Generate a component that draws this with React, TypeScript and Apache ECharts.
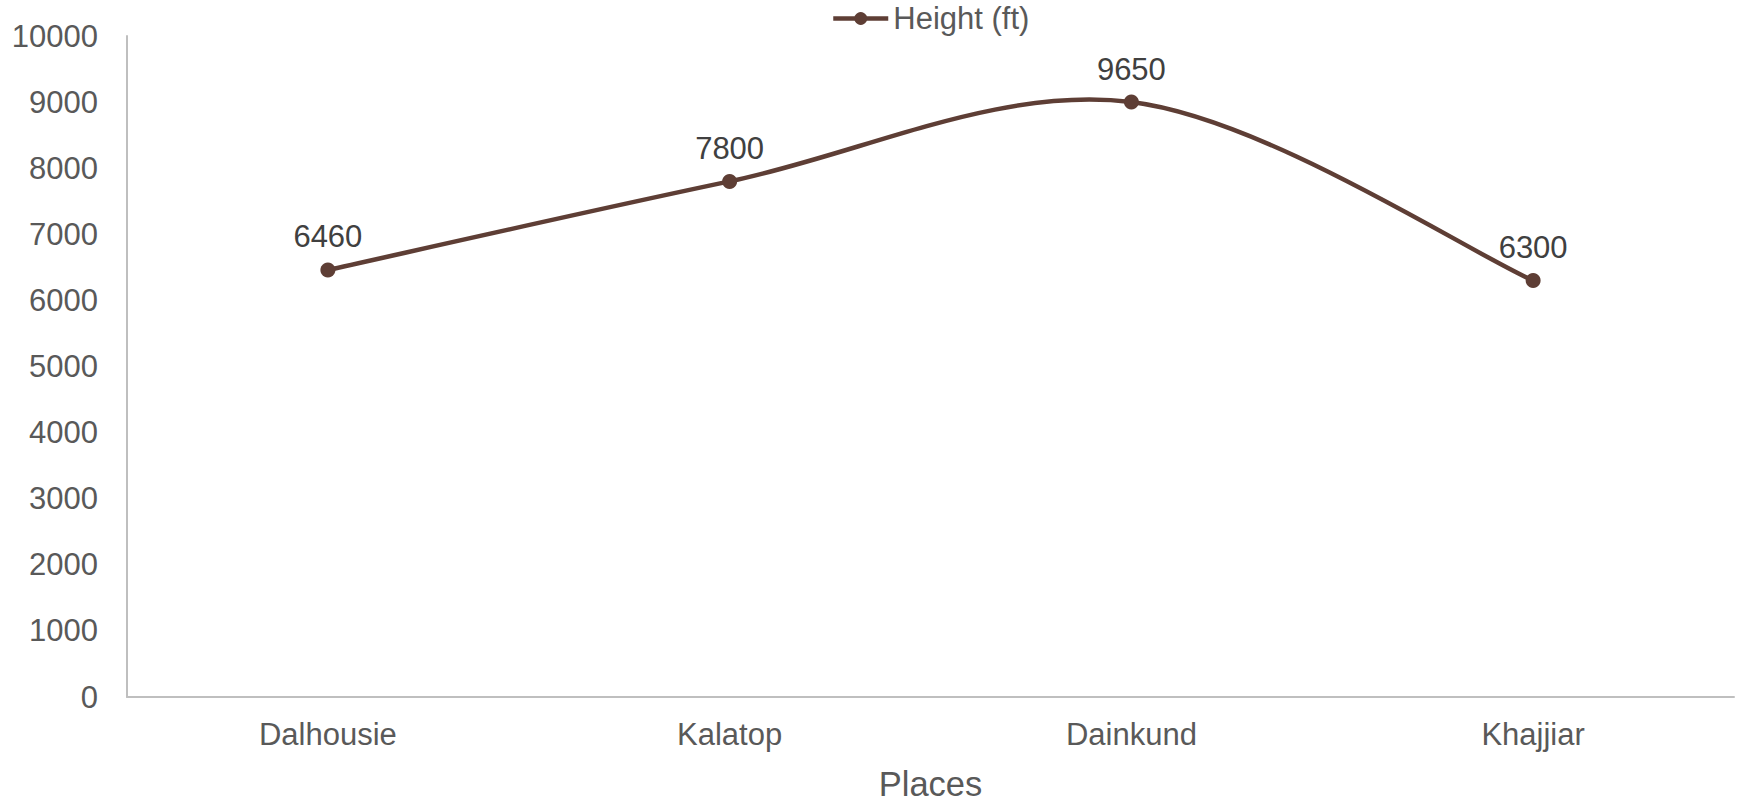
import React, { useEffect, useRef } from "react";
import * as echarts from "echarts";

const places = ["Dalhousie", "Kalatop", "Dainkund", "Khajjiar"];
const heights = [6460, 7800, 9000, 6300];
const labelTexts = ["6460", "7800", "9650", "6300"];
const seriesName = "Height (ft)";
const xTitle = "Places";

const FONT = "'Liberation Sans', Arial, sans-serif";
const LINE = "#5E3E35";

// Spreadsheet-style smoothed curve (Catmull-Rom like, tension 1/6) through the data points
function curveRenderItem(params: any, api: any) {
  if (params.dataIndex !== 0) return null;
  const pts = heights.map((v, i) => api.coord([i, v]));
  const n = pts.length;
  let d = `M${pts[0][0]},${pts[0][1]}`;
  for (let i = 0; i < n - 1; i++) {
    const p0 = pts[i - 1] || pts[i];
    const p1 = pts[i];
    const p2 = pts[i + 1];
    const p3 = pts[i + 2] || pts[i + 1];
    const c1x = p1[0] + (p2[0] - p0[0]) / 6;
    const c1y = p1[1] + (p2[1] - p0[1]) / 6;
    const c2x = p2[0] - (p3[0] - p1[0]) / 6;
    const c2y = p2[1] - (p3[1] - p1[1]) / 6;
    d += ` C${c1x},${c1y} ${c2x},${c2y} ${p2[0]},${p2[1]}`;
  }
  return {
    type: "path",
    shape: { pathData: d },
    style: { stroke: LINE, lineWidth: 4.5, fill: "none", lineJoin: "round", lineCap: "round" },
  };
}

export default function App() {
  const ref = useRef<HTMLDivElement>(null);
  useEffect(() => {
    if (!ref.current) return;
    const chart = echarts.init(ref.current, null, { renderer: "svg" });
    chart.setOption({
      animation: false,
      backgroundColor: "#ffffff",
      textStyle: { fontFamily: FONT },
      legend: {
        top: 3,
        left: 831,
        padding: 0,
        itemWidth: 55,
        itemHeight: 16,
        itemGap: 10,
        lineStyle: { width: 4.5, opacity: 1, color: LINE },
        textStyle: { fontSize: 31, color: "#595959", fontFamily: FONT },
        data: [{ name: seriesName }],
      },
      grid: { left: 127, right: 20, top: 36, bottom: 104, containLabel: false },
      xAxis: {
        type: "category",
        data: places,
        boundaryGap: true,
        axisLine: { show: true, lineStyle: { color: "#BFBFBF", width: 2 } },
        axisTick: { show: false },
        axisLabel: { fontSize: 31, color: "#595959", margin: 22, fontFamily: FONT },
        name: xTitle,
        nameLocation: "middle",
        nameGap: 69,
        nameTextStyle: { fontSize: 34.5, color: "#595959", fontFamily: FONT },
        splitLine: { show: false },
      },
      yAxis: {
        type: "value",
        min: 0,
        max: 10000,
        interval: 1000,
        axisLine: { show: true, lineStyle: { color: "#BFBFBF", width: 2 } },
        axisTick: { show: false },
        axisLabel: {
          fontSize: 31,
          color: "#595959",
          margin: 29,
          fontFamily: FONT,
          formatter: (v: number) => String(v),
        },
        splitLine: { show: false },
      },
      series: [
        {
          name: "curve",
          type: "custom",
          data: heights.map((v, i) => [i, v]),
          encode: { x: 0, y: 1 },
          renderItem: curveRenderItem,
          silent: true,
          clip: false,
          z: 2,
        },
        {
          name: seriesName,
          type: "line",
          data: heights,
          symbol: "circle",
          symbolSize: 15,
          z: 3,
          itemStyle: { color: LINE },
          lineStyle: { color: LINE, width: 4.5, opacity: 0 },
          label: {
            show: true,
            position: "top",
            distance: 10,
            fontSize: 31,
            color: "#404040",
            fontFamily: FONT,
            formatter: (p: any) => labelTexts[p.dataIndex],
          },
        },
      ],
    });
    return () => chart.dispose();
  }, []);
  return (
    <div
      ref={ref}
      style={{ position: "absolute", left: 0, top: 0, width: 1754, height: 806 }}
    />
  );
}
